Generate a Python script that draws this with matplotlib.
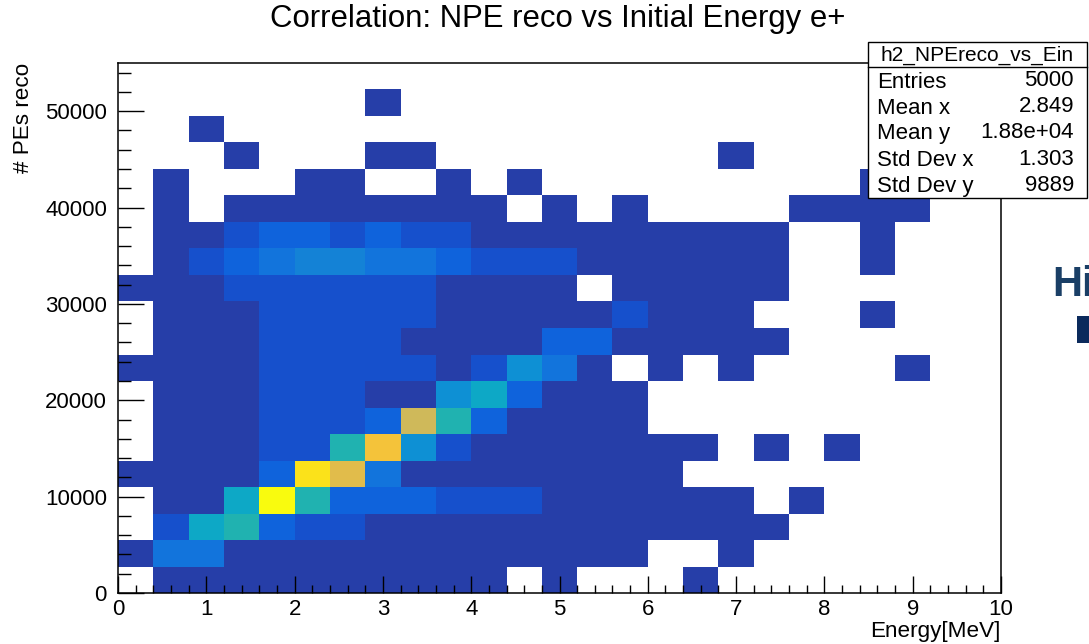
import numpy as np
from matplotlib import pyplot as plt
from matplotlib import patches
from matplotlib.colors import LinearSegmentedColormap

plt.rcParams['font.family'] = ['Liberation Sans', 'DejaVu Sans']

W, H = 1089, 644

x_edges = np.linspace(0, 10, 26)
y_edges = np.linspace(0, 55000, 21)

# counts per bin, one row per y bin, bottom row first
row00 = [0, 3, 3, 3, 3, 3, 3, 3, 3, 3, 3, 0, 3, 0, 0, 0, 3, 0, 0, 0, 0, 0, 0, 0, 0]
row01 = [3, 24, 24, 3, 3, 3, 3, 3, 3, 3, 3, 3, 3, 3, 3, 0, 0, 3, 0, 0, 0, 0, 0, 0, 0]
row02 = [0, 12, 38, 44, 18, 12, 12, 3, 3, 3, 3, 3, 3, 3, 3, 3, 3, 3, 3, 0, 0, 0, 0, 0, 0]
row03 = [0, 3, 3, 38, 90, 44, 18, 18, 18, 12, 12, 12, 3, 3, 3, 3, 3, 3, 0, 3, 0, 0, 0, 0, 0]
row04 = [3, 3, 3, 3, 18, 84, 70, 24, 3, 3, 3, 3, 3, 3, 3, 3, 0, 0, 0, 0, 0, 0, 0, 0, 0]
row05 = [0, 3, 3, 3, 12, 12, 44, 74, 33, 12, 3, 3, 3, 3, 3, 3, 3, 0, 3, 0, 3, 0, 0, 0, 0]
row06 = [0, 3, 3, 3, 12, 12, 12, 18, 66, 44, 18, 3, 3, 3, 3, 0, 0, 0, 0, 0, 0, 0, 0, 0, 0]
row07 = [0, 3, 3, 3, 12, 12, 12, 3, 3, 33, 38, 18, 3, 3, 3, 0, 0, 0, 0, 0, 0, 0, 0, 0, 0]
row08 = [3, 3, 3, 3, 12, 12, 12, 12, 12, 3, 12, 33, 24, 3, 0, 3, 0, 3, 0, 0, 0, 0, 3, 0, 0]
row09 = [0, 3, 3, 3, 12, 12, 12, 12, 3, 3, 3, 3, 18, 18, 3, 3, 3, 3, 3, 0, 0, 0, 0, 0, 0]
row10 = [0, 3, 3, 3, 12, 12, 12, 12, 12, 3, 3, 3, 3, 3, 12, 3, 3, 3, 0, 0, 0, 3, 0, 0, 0]
row11 = [3, 3, 3, 12, 12, 12, 12, 12, 12, 3, 3, 3, 3, 0, 3, 3, 3, 3, 3, 0, 0, 0, 0, 0, 0]
row12 = [0, 3, 12, 18, 24, 28, 28, 24, 24, 18, 12, 12, 12, 3, 3, 3, 3, 3, 3, 0, 0, 3, 0, 0, 0]
row13 = [0, 3, 3, 12, 18, 18, 12, 18, 12, 12, 3, 3, 3, 3, 3, 3, 3, 3, 3, 0, 0, 3, 0, 0, 0]
row14 = [0, 3, 0, 3, 3, 3, 3, 3, 3, 3, 3, 0, 3, 0, 3, 0, 0, 0, 0, 3, 3, 3, 3, 0, 0]
row15 = [0, 3, 0, 0, 0, 3, 3, 0, 0, 3, 0, 3, 0, 0, 0, 0, 0, 0, 0, 0, 0, 3, 0, 0, 0]
row16 = [0, 0, 0, 3, 0, 0, 0, 3, 3, 0, 0, 0, 0, 0, 0, 0, 0, 3, 0, 0, 0, 0, 0, 0, 0]
row17 = [0, 0, 3, 0, 0, 0, 0, 0, 0, 0, 0, 0, 0, 0, 0, 0, 0, 0, 0, 0, 0, 0, 0, 0, 0]
row18 = [0, 0, 0, 0, 0, 0, 0, 3, 0, 0, 0, 0, 0, 0, 0, 0, 0, 0, 0, 0, 0, 0, 0, 0, 0]
row19 = [0] * 25

counts = np.array([row00, row01, row02, row03, row04, row05, row06, row07, row08, row09,
                   row10, row11, row12, row13, row14, row15, row16, row17, row18, row19], dtype=float)

stat_names = ['Entries', 'Mean x', 'Mean y', 'Std Dev x', 'Std Dev y']
stat_values = ['5000', '2.849', '1.88e+04', '1.303', '9889']

# palette of the picture, picked by eye
stops = [(0.0, '#263ea8'), (3 / 90, '#263ea8'), (12 / 90, '#1650cc'), (18 / 90, '#0f63dc'),
         (24 / 90, '#1274dc'), (28 / 90, '#1482d6'), (33 / 90, '#0e90d4'), (38 / 90, '#0da8c6'),
         (44 / 90, '#1fb2b0'), (66 / 90, '#cfb95a'), (70 / 90, '#e0bc4c'), (74 / 90, '#f4c33a'),
         (84 / 90, '#fbe21a'), (1.0, '#f9fb0e')]
bird = LinearSegmentedColormap.from_list('bird', stops)

fig = plt.figure(figsize=(W / 100, H / 100), dpi=100)
ax = fig.add_axes([118 / W, 1 - 593 / H, (1001 - 118) / W, (593 - 63) / H])

ax.pcolormesh(x_edges, y_edges, np.ma.masked_equal(counts, 0), cmap=bird, vmin=0, vmax=90)

ax.set_xlim(0, 10)
ax.set_ylim(0, 55000)
ax.set_xticks(range(0, 11))
ax.set_xticks(np.arange(0, 10.01, 0.2), minor=True)
ax.set_yticks(range(0, 50001, 10000))
ax.set_yticks(range(0, 55001, 2000), minor=True)
ax.tick_params(axis='x', which='major', direction='in', length=12, width=1, labelsize=16, pad=4)
ax.tick_params(axis='x', which='minor', direction='in', length=6, width=1)
ax.tick_params(axis='y', which='major', direction='in', length=19, width=1, labelsize=16, pad=8)
ax.tick_params(axis='y', which='minor', direction='in', length=9.5, width=1)
ax.set_axisbelow(False)
for s in ax.spines.values():
    s.set_linewidth(1.1)


def fx(p):
    return p / W


def fy(p):
    return 1 - p / H


fig.text(fx(558), fy(19), 'Correlation: NPE reco vs Initial Energy e+', fontsize=22.4,
         ha='center', va='center')
fig.text(fx(1000), fy(632), 'Energy[MeV]', fontsize=16.2, ha='right', va='center')
fig.text(fx(24), fy(63), '# PEs reco', fontsize=16.2, rotation=90, ha='center', va='top')

# stats box
fig.add_artist(patches.Rectangle((fx(868), fy(198)), (1087 - 868) / W, (198 - 42) / H,
                                 transform=fig.transFigure, facecolor='white',
                                 edgecolor='black', linewidth=1, zorder=5))
fig.add_artist(plt.Line2D([fx(868), fx(1087)], [fy(67), fy(67)], color='black', linewidth=1, zorder=6))
fig.text(fx(977), fy(55), 'h2_NPEreco_vs_Ein', fontsize=15, ha='center', va='center', zorder=7)
name_y = [82, 108, 134, 161, 186]
value_y = [80, 107, 133, 159, 185]
for name, value, ny, vy in zip(stat_names, stat_values, name_y, value_y):
    fig.text(fx(877), fy(ny), name, fontsize=16, ha='left', va='center', zorder=7)
    fig.text(fx(1074), fy(vy), value, fontsize=16, ha='right', va='center', zorder=7)

# bit of another slide showing at the right edge
fig.text(fx(1052), fy(285), 'Hi', fontsize=30, fontweight='bold', color='#1a3f66', ha='left', va='center')
fig.add_artist(patches.Rectangle((fx(1077), fy(343)), 12 / W, 27 / H, transform=fig.transFigure,
                                 facecolor='#0b2a5c', edgecolor='none'))

plt.savefig('out.png', dpi=100)
